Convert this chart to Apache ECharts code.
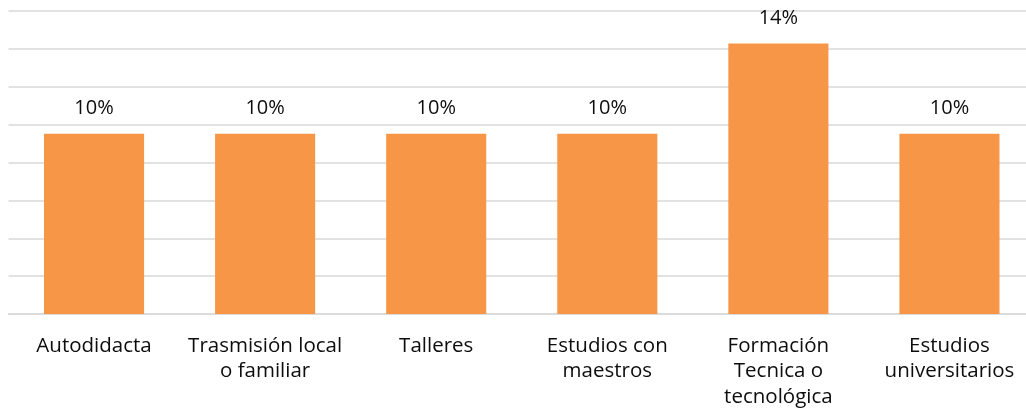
<!DOCTYPE html>
<html><head><meta charset="utf-8">
<script src="https://cdn.jsdelivr.net/npm/echarts@6/dist/echarts.min.js"></script>
<style>html,body{margin:0;padding:0;background:#fff;overflow:hidden}#c{width:1035px;height:419px}</style>
</head><body><div id="c"></div>
<script>
const categories = ["Autodidacta", "Trasmisión local\no familiar", "Talleres", "Estudios con\nmaestros", "Formación\nTecnica o\ntecnológica", "Estudios\nuniversitarios"];
const values = [9.52, 9.52, 9.52, 9.52, 14.29, 9.52];
const yTicks = [0, 2, 4, 6, 8, 10, 12, 14, 16];

const chart = echarts.init(document.getElementById('c'));
const font = '"Open Sans", "Liberation Sans", sans-serif';
chart.setOption({
  animation: false,
  grid: {left: 8.5, right: 0, top: 11, bottom: 105, containLabel: false},
  xAxis: {
    type: 'category', data: categories,
    axisLine: {lineStyle: {color: '#d9d9d9', width: 1.5}},
    axisTick: {show: false},
    axisLabel: {interval: 0, color: '#0d0d0d', fontFamily: font, fontSize: 20.5, lineHeight: 25.5, margin: 19}
  },
  yAxis: {
    type: 'value', min: yTicks[0], max: yTicks[yTicks.length - 1], interval: yTicks[1] - yTicks[0],
    axisLabel: {show: false}, axisLine: {show: false}, axisTick: {show: false},
    splitLine: {lineStyle: {color: '#d9d9d9', width: 1.5}}
  },
  series: [{
    type: 'bar', data: values, barWidth: '58.5%',
    itemStyle: {color: '#F79646'},
    label: {show: true, position: 'top', distance: 15, color: '#0d0d0d', fontFamily: font, fontSize: 20,
      formatter: p => Math.round(p.value) + '%'}
  }]
});
</script></body></html>
